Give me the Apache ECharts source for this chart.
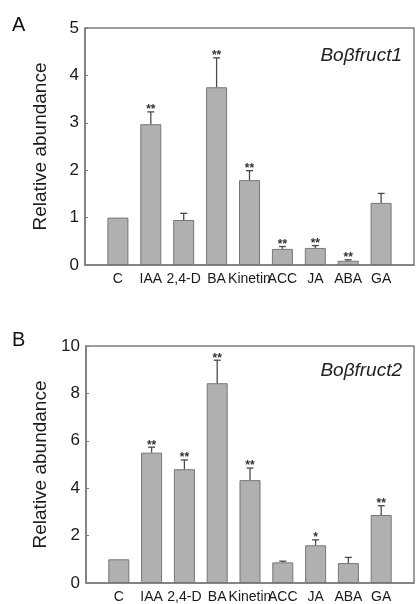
<!DOCTYPE html>
<html>
<head>
<meta charset="utf-8">
<script src="https://cdn.jsdelivr.net/npm/echarts@6/dist/echarts.min.js"></script>
<style>
	html, body { margin: 0; padding: 0; background: #fff; }
	#chartDiv { width: 417px; height: 604px; }
</style>
</head>
<body>
<div id="chartDiv"></div>
<script>
var categories = ['C', 'IAA', '2,4-D', 'BA', 'Kinetin', 'ACC', 'JA', 'ABA', 'GA'];

// panel A - Boβfruct1
var meanA = [1.0, 2.97, 0.95, 3.75, 1.79, 0.34, 0.36, 0.09, 1.31];
var errA = [0, 0.26, 0.14, 0.62, 0.20, 0.05, 0.05, 0.02, 0.20];
var starA = ['', '**', '', '**', '**', '**', '**', '**', ''];
var ticksA = [0, 1, 2, 3, 4, 5];

// panel B - Boβfruct2
var meanB = [1.0, 5.50, 4.80, 8.43, 4.34, 0.87, 1.59, 0.84, 2.87];
var errB = [0, 0.23, 0.39, 0.97, 0.51, 0.05, 0.23, 0.24, 0.39];
var starB = ['', '**', '**', '**', '**', '', '*', '', '**'];
var ticksB = [0, 2, 4, 6, 8, 10];

var FONT = '"Liberation Sans", Arial, sans-serif';
var axisColor = '#7d7d7d';
var barFill = '#b0b0b0';
var barBorder = '#777';

var chart = echarts.init(document.getElementById('chartDiv'));

function makeXAxis(gridIndex) {
	return {
		gridIndex: gridIndex,
		type: 'value',
		min: -1,
		max: 9,
		interval: 1,
		splitLine: { show: false },
		axisTick: { show: false },
		axisLine: { show: true, onZero: false, lineStyle: { color: axisColor, width: 1.5 } },
		axisLabel: {
			color: '#1a1a1a',
			fontFamily: FONT,
			fontSize: 14,
			margin: 7,
			formatter: function (v) {
				return categories[v] || '';
			}
		}
	};
}

function makeYAxis(gridIndex, ticks) {
	return {
		gridIndex: gridIndex,
		type: 'value',
		min: ticks[0],
		max: ticks[ticks.length - 1],
		interval: ticks[1] - ticks[0],
		name: 'Relative abundance',
		nameLocation: 'middle',
		nameGap: 35,
		nameTextStyle: { color: '#1a1a1a', fontFamily: FONT, fontSize: 19 },
		splitLine: { show: false },
		axisLine: { show: true, onZero: false, lineStyle: { color: axisColor, width: 1.5 } },
		axisTick: { show: true, inside: true, length: 3, lineStyle: { color: axisColor } },
		axisLabel: { color: '#1a1a1a', fontFamily: FONT, fontSize: 17, margin: 6 }
	};
}

function barData(mean) {
	return categories.map(function (c, i) { return [i, mean[i]]; });
}

function errData(mean, err) {
	return categories.map(function (c, i) { return [i, mean[i], err[i]]; });
}

function renderErr(params, api) {
	var i = params.dataIndex;
	var x = api.value(0);
	var m = api.value(1);
	var e = api.value(2);
	var s = params.seriesIndex === 1 ? starA[i] : starB[i];
	var p0 = api.coord([x, m]);
	var p1 = api.coord([x, m + e]);
	var children = [];
	if (e > 0) {
		children.push({
			type: 'line',
			shape: { x1: p0[0], y1: p0[1], x2: p1[0], y2: p1[1] },
			style: { stroke: '#4a4a4a', lineWidth: 1.3 }
		});
		children.push({
			type: 'line',
			shape: { x1: p1[0] - 3.5, y1: p1[1], x2: p1[0] + 3.5, y2: p1[1] },
			style: { stroke: '#4a4a4a', lineWidth: 1.3 }
		});
	}
	if (s) {
		children.push({
			type: 'text',
			style: {
				x: p1[0],
				y: p1[1] - 2,
				text: s,
				fill: '#333',
				font: 'bold 12px ' + FONT,
				textAlign: 'center',
				textVerticalAlign: 'middle'
			}
		});
	}
	return { type: 'group', children: children };
}

var barStyle = { color: barFill, borderColor: barBorder, borderWidth: 1 };

option = {
	animation: false,
	grid: [
		{ left: 85, top: 28, width: 330, height: 237, show: true, borderColor: axisColor, borderWidth: 1.5 },
		{ left: 86, top: 346, width: 329, height: 238, show: true, borderColor: axisColor, borderWidth: 1.5 }
	],
	xAxis: [makeXAxis(0), makeXAxis(1)],
	yAxis: [makeYAxis(0, ticksA), makeYAxis(1, ticksB)],
	graphic: [
		{ type: 'text', left: 12, top: 15, style: { text: 'A', fill: '#111', font: '20px ' + FONT } },
		{ type: 'text', left: 12, top: 330, style: { text: 'B', fill: '#111', font: '20px ' + FONT } },
		{ type: 'text', right: 15, top: 46, style: { text: 'Boβfruct1', fill: '#222', font: 'italic 19px ' + FONT } },
		{ type: 'text', right: 15, top: 361, style: { text: 'Boβfruct2', fill: '#222', font: 'italic 19px ' + FONT } }
	],
	series: [
		{
			type: 'bar', xAxisIndex: 0, yAxisIndex: 0, barWidth: 21,
			data: barData(meanA), itemStyle: barStyle
		},
		{
			type: 'custom', xAxisIndex: 0, yAxisIndex: 0, z: 3,
			renderItem: renderErr,
			encode: { x: 0, y: 1 },
			data: errData(meanA, errA)
		},
		{
			type: 'bar', xAxisIndex: 1, yAxisIndex: 1, barWidth: 21,
			data: barData(meanB), itemStyle: barStyle
		},
		{
			type: 'custom', xAxisIndex: 1, yAxisIndex: 1, z: 3,
			renderItem: renderErr,
			encode: { x: 0, y: 1 },
			data: errData(meanB, errB)
		}
	]
};

chart.setOption(option, true);
</script>
</body>
</html>
